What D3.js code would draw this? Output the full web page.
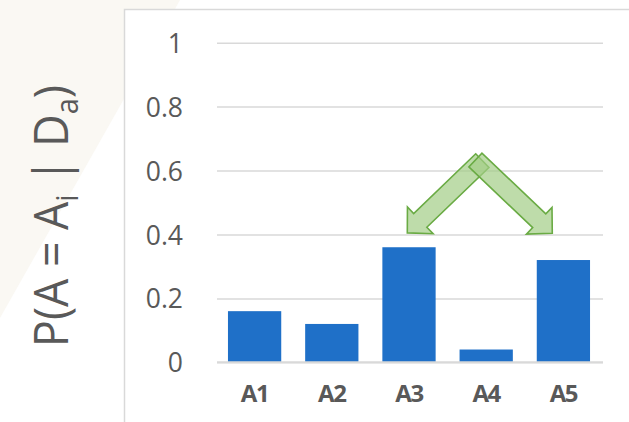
<!DOCTYPE html>
<html>
<head>
<meta charset="utf-8">
<script src="https://cdn.jsdelivr.net/npm/d3@7"></script>
<style>
  html, body { margin: 0; padding: 0; background: #fff; }
  svg { display: block; font-family: "Open Sans", "Noto Sans", sans-serif; }
</style>
</head>
<body>
<div id="chart"></div>
<script>
// chart data
var categories = ["A1", "A2", "A3", "A4", "A5"];
var probs = [0.16, 0.12, 0.36, 0.04, 0.32];
var yTicks = [0, 0.2, 0.4, 0.6, 0.8, 1];
// block arrows, x in category units (A1 centre = 0.5), y in probability
var arrowFrom = [[3.45, 0.631], [3.36, 0.633]];
var arrowTo = [[2.478, 0.405], [4.356, 0.404]];

var width = 629, height = 422;
var svg = d3.select("#chart").append("svg")
    .attr("width", width)
    .attr("height", height);

// faint slide background corner
svg.append("path")
    .attr("d", "M0,0L180,0L0,318Z")
    .attr("fill", "#faf8f3");

// chart frame (left + top border visible)
svg.append("rect")
    .attr("x", 124.5).attr("y", 9.5)
    .attr("width", 540).attr("height", 440)
    .attr("fill", "#fff")
    .attr("stroke", "#d9d9d9")
    .attr("stroke-width", 1.5);

var x = d3.scaleBand()
    .domain(categories)
    .range([216, 602])
    .paddingInner(0.31)
    .paddingOuter(0.155);

var y = d3.scaleLinear()
    .domain([0, 1])
    .range([362.3, 42.7]);

var xPos = d3.scaleLinear().domain([0, categories.length]).range(x.range());

// gridlines + y labels
var yAxis = svg.append("g")
    .attr("transform", "translate(217,0)")
    .call(d3.axisLeft(y)
        .tickValues(yTicks)
        .tickSize(-386)
        .tickPadding(34)
        .tickFormat(d3.format("")))
    .attr("font-family", null);
yAxis.select(".domain").remove();
yAxis.selectAll(".tick line")
    .attr("stroke", "#d9d9d9")
    .attr("stroke-width", 1.5);
yAxis.selectAll(".tick text")
    .attr("fill", "#595959")
    .attr("dy", "0.36em")
    .style("font-size", "26.5px");

// bars
svg.selectAll(".bar")
    .data(probs)
    .enter().append("rect")
    .attr("class", "bar")
    .attr("x", function(d, i) { return x(categories[i]); })
    .attr("y", function(d) { return y(d); })
    .attr("width", x.bandwidth())
    .attr("height", function(d) { return y(0) - y(d); })
    .attr("fill", "#1f70c8");

// baseline
svg.append("line")
    .attr("x1", 217).attr("x2", 603)
    .attr("y1", y(0)).attr("y2", y(0))
    .attr("stroke", "#d9d9d9")
    .attr("stroke-width", 2);

// category labels
var xAxis = svg.append("g")
    .attr("transform", "translate(0," + y(0) + ")")
    .call(d3.axisBottom(x).tickSize(0).tickPadding(23))
    .attr("font-family", null);
xAxis.select(".domain").remove();
xAxis.selectAll(".tick text")
    .attr("fill", "#595959")
    .style("font-size", "24px")
    .style("letter-spacing", "-1.4px")
    .style("font-weight", "bold");

// block arrows
function arrowPath(s, e) {
    var sx = xPos(s[0]), sy = y(s[1]), ex = xPos(e[0]), ey = y(e[1]);
    var len = Math.hypot(ex - sx, ey - sy);
    var ux = (ex - sx) / len, uy = (ey - sy) / len;
    var nx = -uy, ny = ux;
    var sw = 9.5, hw = 18.5, hl = 18;
    var bx = ex - ux * hl, by = ey - uy * hl;
    var pts = [
        [sx + nx * sw, sy + ny * sw],
        [bx + nx * sw, by + ny * sw],
        [bx + nx * hw, by + ny * hw],
        [ex, ey],
        [bx - nx * hw, by - ny * hw],
        [bx - nx * sw, by - ny * sw],
        [sx - nx * sw, sy - ny * sw]
    ];
    return "M" + pts.join("L") + "Z";
}

svg.selectAll(".arrow")
    .data(arrowFrom)
    .enter().append("path")
    .attr("class", "arrow")
    .attr("d", function(d, i) { return arrowPath(d, arrowTo[i]); })
    .attr("fill", "#a2cd86")
    .attr("fill-opacity", 0.7)
    .attr("stroke", "#6aab44")
    .attr("stroke-width", 1.6)
    .attr("stroke-linejoin", "miter");

// y axis title
var title = svg.append("text")
    .attr("transform", "translate(68,216) rotate(-90)")
    .attr("text-anchor", "middle")
    .attr("fill", "#595959")
    .attr("textLength", 262)
    .attr("lengthAdjust", "spacingAndGlyphs")
    .style("font-size", "48px");
title.append("tspan").text("P(A = A");
title.append("tspan").attr("dy", 10).style("font-size", "31px").text("i");
title.append("tspan").attr("dy", -10).text(" | D");
title.append("tspan").attr("dy", 10).style("font-size", "31px").text("a");
title.append("tspan").attr("dy", -10).text(")");
</script>
</body>
</html>
